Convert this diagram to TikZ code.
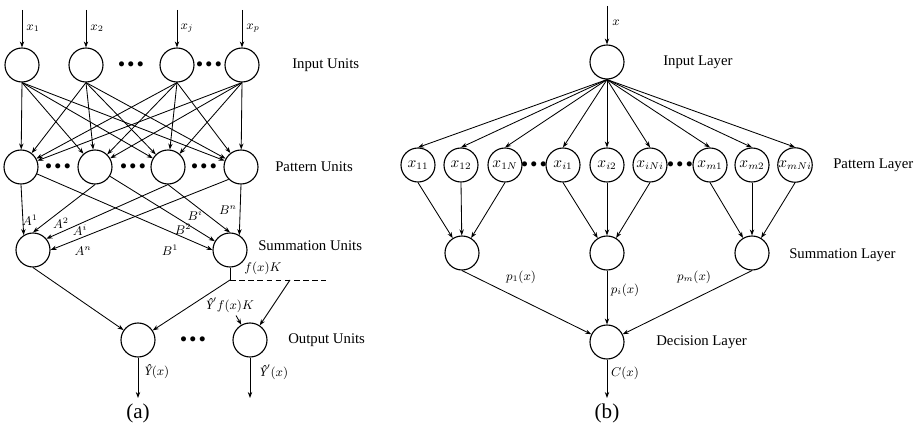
\documentclass[tikz,border=0pt]{standalone}
\usepackage{amsmath}
\usepackage{fontspec}
\setmainfont{Liberation Serif}
\usepackage{tikz}
\usetikzlibrary{arrows.meta}

\begin{document}
\begin{tikzpicture}[
    x=0.025cm, y=-0.025cm,
    % Estilos para no repetir código
    neurona/.style={circle, draw, line width=0.8pt, minimum size=0.85cm, inner sep=0pt,
      font=\fontsize{10.5}{12}\selectfont},
    flecha/.style={-{Stealth[length=1.5mm,width=1.1mm]}, line width=0.6pt},
    etiq/.style={font=\fontsize{9}{10}\selectfont, inner sep=1pt},
    capa/.style={font=\fontsize{10.5}{12}\selectfont, anchor=west, inner sep=0pt},
    puntos/.style={font=\fontsize{9}{10}\selectfont, inner sep=0pt},
    titulo/.style={font=\fontsize{15}{17}\selectfont, inner sep=0pt}
  ]
  \useasboundingbox (0,0) rectangle (922,425);

  %%%%%%%%%%%%%%%%%%%% (a) %%%%%%%%%%%%%%%%%%%%

  % 1. Unidades de entrada
  \node[neurona] (e1) at (22,65)  {};
  \node[neurona] (e2) at (86,65)  {};
  \node[neurona] (ej) at (177,65) {};
  \node[neurona] (ep) at (242,65) {};
  \node[puntos] (d1) at (131,65) {$\bullet\bullet\bullet$};
  \node[puntos] (d2) at (209,65) {$\bullet\bullet\bullet$};

  \coordinate (x1) at (22,10);
  \coordinate (x2) at (86,10);
  \coordinate (xj) at (177,10);
  \coordinate (xp) at (242,10);
  \draw[flecha] (x1) -- (e1);
  \draw[flecha] (x2) -- (e2);
  \draw[flecha] (xj) -- (ej);
  \draw[flecha] (xp) -- (ep);
  \node[etiq] (lx1) at (33,28)  {$x_1$};
  \node[etiq] (lx2) at (97,28)  {$x_2$};
  \node[etiq] (lxj) at (187,28) {$x_j$};
  \node[etiq] (lxp) at (253,28) {$x_p$};

  % 2. Unidades de patrón
  \node[neurona] (p1) at (21,167)  {};
  \node[neurona] (p2) at (95,167)  {};
  \node[neurona] (p3) at (168,167) {};
  \node[neurona] (p4) at (241,167) {};
  \node[puntos] (d3) at (58,167)  {$\bullet\bullet\bullet$};
  \node[puntos] (d4) at (133,167) {$\bullet\bullet\bullet$};
  \node[puntos] (d5) at (204,167) {$\bullet\bullet\bullet$};

  % Conexiones entrada -> patrón
  \draw[flecha] (e1.south) -- (p1);
  \draw[flecha] (e1.south) -- (p2);
  \draw[flecha] (e1.south) -- (p3);
  \draw[flecha] (e1.south) -- (p4);
  \draw[flecha] (e2.south) -- (p1);
  \draw[flecha] (e2.south) -- (p2);
  \draw[flecha] (e2.south) -- (p3);
  \draw[flecha] (e2.south) -- (p4);
  \draw[flecha] (ej.south) -- (p1);
  \draw[flecha] (ej.south) -- (p2);
  \draw[flecha] (ej.south) -- (p3);
  \draw[flecha] (ej.south) -- (p4);
  \draw[flecha] (ep.south) -- (p1);
  \draw[flecha] (ep.south) -- (p2);
  \draw[flecha] (ep.south) -- (p3);
  \draw[flecha] (ep.south) -- (p4);

  % 3. Unidades de suma
  \node[neurona] (s1) at (33,250)  {};
  \node[neurona] (s2) at (230,250) {};

  \draw[flecha] (p1.south) -- (s1.122);
  \draw[flecha] (p2.south) -- (s1.north);
  \draw[flecha] (p3.south) -- (s1.40);
  \draw[flecha] (p4.south west) -- (s1.east);
  \draw[flecha] (p1) -- (s2.west);
  \draw[flecha] (p2) -- (s2.150);
  \draw[flecha] (p3.south) -- (s2.north);
  \draw[flecha] (p4.south) -- (s2.58);

  \node[etiq] (a1) at (30,220)  {$A^1$};
  \node[etiq] (a2) at (61,223)  {$A^2$};
  \node[etiq] (ai) at (80,230)  {$A^i$};
  \node[etiq] (an) at (83,251)  {$A^n$};
  \node[etiq] (bi) at (195,215) {$B^i$};
  \node[etiq] (bn) at (228,210) {$B^n$};
  \node[etiq] (b2) at (183,229) {$B^2$};
  \node[etiq] (b1) at (170,250) {$B^1$};

  % 4. Unidades de salida
  \node[neurona] (o1) at (138,340) {};
  \node[neurona] (o2) at (250,340) {};
  \node[puntos] (d6) at (193,340) {$\bullet\bullet\bullet$};

  \coordinate (union) at (230,280);
  \coordinate (rama) at (290,280);
  \coordinate (fin) at (326,280);
  \draw[line width=0.6pt] (s2) -- (union);
  \draw[dash pattern=on 4pt off 2.5pt, line width=0.6pt] (union) -- (fin);
  \draw[flecha] (s1.south) -- (o1);
  \draw[flecha] (union) -- (o1);
  \draw[flecha] (rama) -- (o2);
  \node[etiq] (fk) at (263,268) {$f(x)K$};
  \node[etiq] (yfk) at (230,305) {$\textit{Ŷ}'f(x)K$};
  \draw[flecha, shorten <=1pt] (yfk) -- (o2);

  \coordinate (ya) at (138,398);
  \coordinate (yb) at (250,398);
  \draw[flecha] (o1) -- (ya);
  \draw[flecha] (o2) -- (yb);
  \node[etiq] (ly) at (157,372)  {$\textit{Ŷ}(x)$};
  \node[etiq] (lyp) at (274,372) {$\textit{Ŷ}'(x)$};

  % Nombres de las capas
  \node[capa] (c1) at (292,65)  {Input Units};
  \node[capa] (c2) at (275,167) {Pattern Units};
  \node[capa] (c3) at (258,246) {Summation Units};
  \node[capa] (c4) at (288,340) {Output Units};
  \node[titulo] (ta) at (138,413) {(a)};

  %%%%%%%%%%%%%%%%%%%% (b) %%%%%%%%%%%%%%%%%%%%

  % 1. Capa de entrada
  \node[neurona] (ent) at (607,62) {};
  \coordinate (xin) at (607,6);
  \draw[flecha] (xin) -- (ent);
  \node[etiq] (lx) at (616,23) {$x$};

  % 2. Capa de patrones
  \node[neurona] (x11)  at (418,165) {$x_{11}$};
  \node[neurona] (x12)  at (461,165) {$x_{12}$};
  \node[neurona] (x1N)  at (505,165) {$x_{1N}$};
  \node[neurona] (xi1)  at (563,165) {$x_{i1}$};
  \node[neurona] (xi2)  at (607,165) {$x_{i2}$};
  \node[neurona] (xiNi) at (650,165) {$x_{iNi}$};
  \node[neurona] (xm1)  at (710,165) {$x_{m1}$};
  \node[neurona] (xm2)  at (752,165) {$x_{m2}$};
  \node[neurona] (xmNi) at (795,165) {$x_{mNi}$};
  \node[puntos] (d7) at (534,165) {$\bullet\bullet\bullet$};
  \node[puntos] (d8) at (680,165) {$\bullet\bullet\bullet$};

  \draw[flecha] (ent.south) -- (x11.north);
  \draw[flecha] (ent.south) -- (x12.north);
  \draw[flecha] (ent.south) -- (x1N.north);
  \draw[flecha] (ent.south) -- (xi1.north);
  \draw[flecha] (ent.south) -- (xi2.north);
  \draw[flecha] (ent.south) -- (xiNi.north);
  \draw[flecha] (ent.south) -- (xm1.north);
  \draw[flecha] (ent.south) -- (xm2.north);
  \draw[flecha] (ent.south) -- (xmNi.north);

  % 3. Capa de suma
  \node[neurona] (sa) at (462,253) {};
  \node[neurona] (sb) at (607,253) {};
  \node[neurona] (sc) at (752,253) {};

  \draw[flecha] (x11.south) -- (sa);
  \draw[flecha] (x12.south) -- (sa);
  \draw[flecha] (x1N.south) -- (sa);
  \draw[flecha] (xi1.south) -- (sb);
  \draw[flecha] (xi2.south) -- (sb);
  \draw[flecha] (xiNi.south) -- (sb);
  \draw[flecha] (xm1.south) -- (sc);
  \draw[flecha] (xm2.south) -- (sc);
  \draw[flecha] (xmNi.south) -- (sc);

  % 4. Capa de decisión
  \node[neurona] (dec) at (607,342) {};
  \draw[flecha] (sa.south) -- (dec);
  \draw[flecha] (sb) -- (dec);
  \draw[flecha] (sc.south) -- (dec);
  \node[etiq] (lp1) at (521,277) {$p_1(x)$};
  \node[etiq] (lpi) at (625,290) {$p_i(x)$};
  \node[etiq] (lpm) at (694,277) {$p_m(x)$};

  \coordinate (cx) at (607,398);
  \draw[flecha] (dec) -- (cx);
  \node[etiq] (lc) at (625,373) {$C(x)$};

  % Nombres de las capas
  \node[capa] (c5) at (663,62)  {Input Layer};
  \node[capa] (c6) at (833,165) {Pattern Layer};
  \node[capa] (c7) at (789,255) {Summation Layer};
  \node[capa] (c8) at (656,342) {Decision Layer};
  \node[titulo] (tb) at (607,413) {(b)};

\end{tikzpicture}
\end{document}
